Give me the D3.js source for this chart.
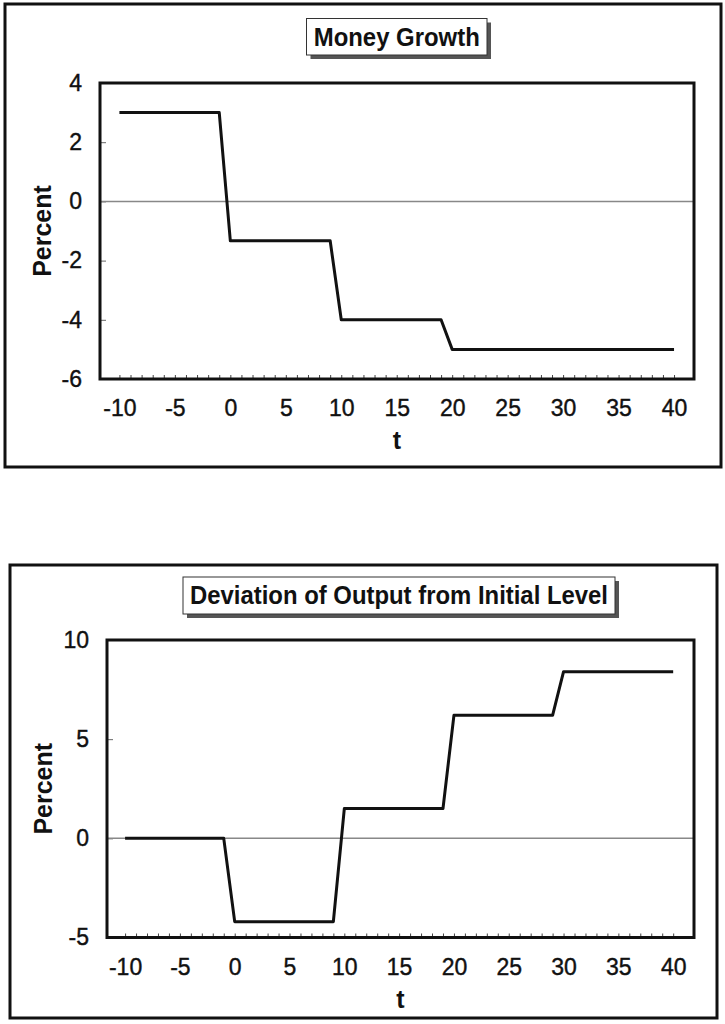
<!DOCTYPE html>
<html>
<head>
<meta charset="utf-8">
<script src="https://cdn.jsdelivr.net/npm/d3@7"></script>
<style>
  html, body { margin: 0; padding: 0; background: #fff; }
  svg { display: block; font-family: "Liberation Sans", Arial, sans-serif; }
</style>
</head>
<body>
<div id="chart"></div>
<script>
// time periods (x categories)
const tValues = [-10, -9, -8, -7, -6, -5, -4, -3, -2, -1,
  0, 1, 2, 3, 4, 5, 6, 7, 8, 9,
  10, 11, 12, 13, 14, 15, 16, 17, 18, 19,
  20, 21, 22, 23, 24, 25, 26, 27, 28, 29,
  30, 31, 32, 33, 34, 35, 36, 37, 38, 39, 40];

// money growth, percent
const moneyGrowth = [3, 3, 3, 3, 3, 3, 3, 3, 3, 3,
  -1.33, -1.33, -1.33, -1.33, -1.33, -1.33, -1.33, -1.33, -1.33, -1.33,
  -4, -4, -4, -4, -4, -4, -4, -4, -4, -4,
  -5, -5, -5, -5, -5, -5, -5, -5, -5, -5,
  -5, -5, -5, -5, -5, -5, -5, -5, -5, -5, -5];

// deviation of output from initial level, percent
const outputDeviation = [0, 0, 0, 0, 0, 0, 0, 0, 0, 0,
  -4.2, -4.2, -4.2, -4.2, -4.2, -4.2, -4.2, -4.2, -4.2, -4.2,
  1.5, 1.5, 1.5, 1.5, 1.5, 1.5, 1.5, 1.5, 1.5, 1.5,
  6.2, 6.2, 6.2, 6.2, 6.2, 6.2, 6.2, 6.2, 6.2, 6.2,
  8.4, 8.4, 8.4, 8.4, 8.4, 8.4, 8.4, 8.4, 8.4, 8.4, 8.4];

// tick labels
const xTickLabels = [-10, -5, 0, 5, 10, 15, 20, 25, 30, 35, 40];
const moneyYTicks = [4, 2, 0, -2, -4, -6];
const outputYTicks = [10, 5, 0, -5];

const svg = d3.select('#chart')
  .append('svg')
  .attr('width', 725)
  .attr('height', 1024);

svg.append('rect').attr('width', 725).attr('height', 1024).attr('fill', '#fff');

// plain hyphen for negatives, like the original
const fmt = d => String(d);

function styleLabels(a) {
  a.selectAll('text')
    .attr('font-size', 23)
    .attr('font-family', '"Liberation Sans", Arial, sans-serif')
    .attr('fill', '#111')
    .attr('stroke', '#111')
    .attr('stroke-width', 0.4);
}

function drawPanel(cfg) {
  const g = svg.append('g');

  // outer frame
  g.append('rect')
    .attr('x', cfg.frame[0]).attr('y', cfg.frame[1])
    .attr('width', cfg.frame[2] - cfg.frame[0])
    .attr('height', cfg.frame[3] - cfg.frame[1])
    .attr('fill', 'none')
    .attr('stroke', '#111')
    .attr('stroke-width', 3);

  // title box with drop shadow
  const tb = cfg.titleBox;
  g.append('rect')
    .attr('x', tb[0] + 4).attr('y', tb[1] + 4)
    .attr('width', tb[2] - tb[0]).attr('height', tb[3] - tb[1])
    .attr('fill', '#555');
  g.append('rect')
    .attr('x', tb[0]).attr('y', tb[1])
    .attr('width', tb[2] - tb[0]).attr('height', tb[3] - tb[1])
    .attr('fill', '#fff')
    .attr('stroke', '#333')
    .attr('stroke-width', 1);
  g.append('text')
    .attr('x', (tb[0] + tb[2]) / 2)
    .attr('y', tb[1] + 27)
    .attr('text-anchor', 'middle')
    .attr('font-size', 25)
    .attr('font-weight', 'bold')
    .attr('fill', '#111')
    .attr('textLength', cfg.titleWidth)
    .attr('lengthAdjust', 'spacingAndGlyphs')
    .text(cfg.title);

  const [left, top, right, bottom] = cfg.plot;
  const x = d3.scaleLinear().domain(cfg.xDomain).range([left, right]);
  const y = d3.scaleLinear().domain(cfg.yDomain).range([bottom, top]);

  // minor x ticks, inside the plot
  g.append('g')
    .attr('transform', `translate(0,${bottom})`)
    .call(d3.axisBottom(x).tickValues(tValues).tickSize(-4).tickFormat(''))
    .call(a => a.select('.domain').remove())
    .call(a => a.selectAll('line').attr('stroke', '#444'));

  // x tick labels
  g.append('g')
    .attr('transform', `translate(0,${bottom})`)
    .call(d3.axisBottom(x).tickValues(xTickLabels).tickSize(0).tickPadding(21).tickFormat(fmt))
    .call(a => a.select('.domain').remove())
    .call(styleLabels);

  // y ticks inside, labels outside
  g.append('g')
    .attr('transform', `translate(${left},0)`)
    .call(d3.axisLeft(y).tickValues(cfg.yTicks).tickSize(-6).tickPadding(18).tickFormat(fmt))
    .call(a => a.select('.domain').remove())
    .call(a => a.selectAll('line').attr('stroke', '#666'))
    .call(styleLabels);

  // zero line
  g.append('line')
    .attr('x1', left).attr('x2', right)
    .attr('y1', y(0)).attr('y2', y(0))
    .attr('stroke', '#888')
    .attr('stroke-width', 1.5);

  // series
  const line = d3.line()
    .x((d, i) => x(tValues[i]))
    .y(d => y(d));
  g.append('path')
    .datum(cfg.values)
    .attr('d', line)
    .attr('fill', 'none')
    .attr('stroke', '#111')
    .attr('stroke-width', 3)
    .attr('stroke-linejoin', 'round');

  // plot frame
  g.append('rect')
    .attr('x', left).attr('y', top)
    .attr('width', right - left).attr('height', bottom - top)
    .attr('fill', 'none')
    .attr('stroke', '#111')
    .attr('stroke-width', 3);

  // axis titles
  g.append('text')
    .attr('transform', `translate(${cfg.yLabelX},${(top + bottom) / 2}) rotate(-90)`)
    .attr('text-anchor', 'middle')
    .attr('font-size', 25)
    .attr('font-weight', 'bold')
    .attr('fill', '#111')
    .text('Percent');

  g.append('text')
    .attr('x', (left + right) / 2)
    .attr('y', bottom + 70)
    .attr('text-anchor', 'middle')
    .attr('font-size', 25)
    .attr('font-weight', 'bold')
    .attr('fill', '#111')
    .text('t');
}

drawPanel({
  frame: [5, 4, 721, 467],
  titleBox: [306.5, 18.5, 487, 55],
  title: 'Money Growth',
  titleWidth: 166,
  plot: [100, 83, 694, 379],
  xDomain: [-11.75, 41.8],
  yDomain: [-6, 4],
  yTicks: moneyYTicks,
  yLabelX: 51,
  values: moneyGrowth
});

drawPanel({
  frame: [10, 565, 717, 1018],
  titleBox: [183, 577, 615, 614],
  title: 'Deviation of Output from Initial Level',
  titleWidth: 418,
  plot: [107, 640, 694, 937.5],
  xDomain: [-11.65, 41.9],
  yDomain: [-5, 10],
  yTicks: outputYTicks,
  yLabelX: 52,
  values: outputDeviation
});
</script>
</body>
</html>
